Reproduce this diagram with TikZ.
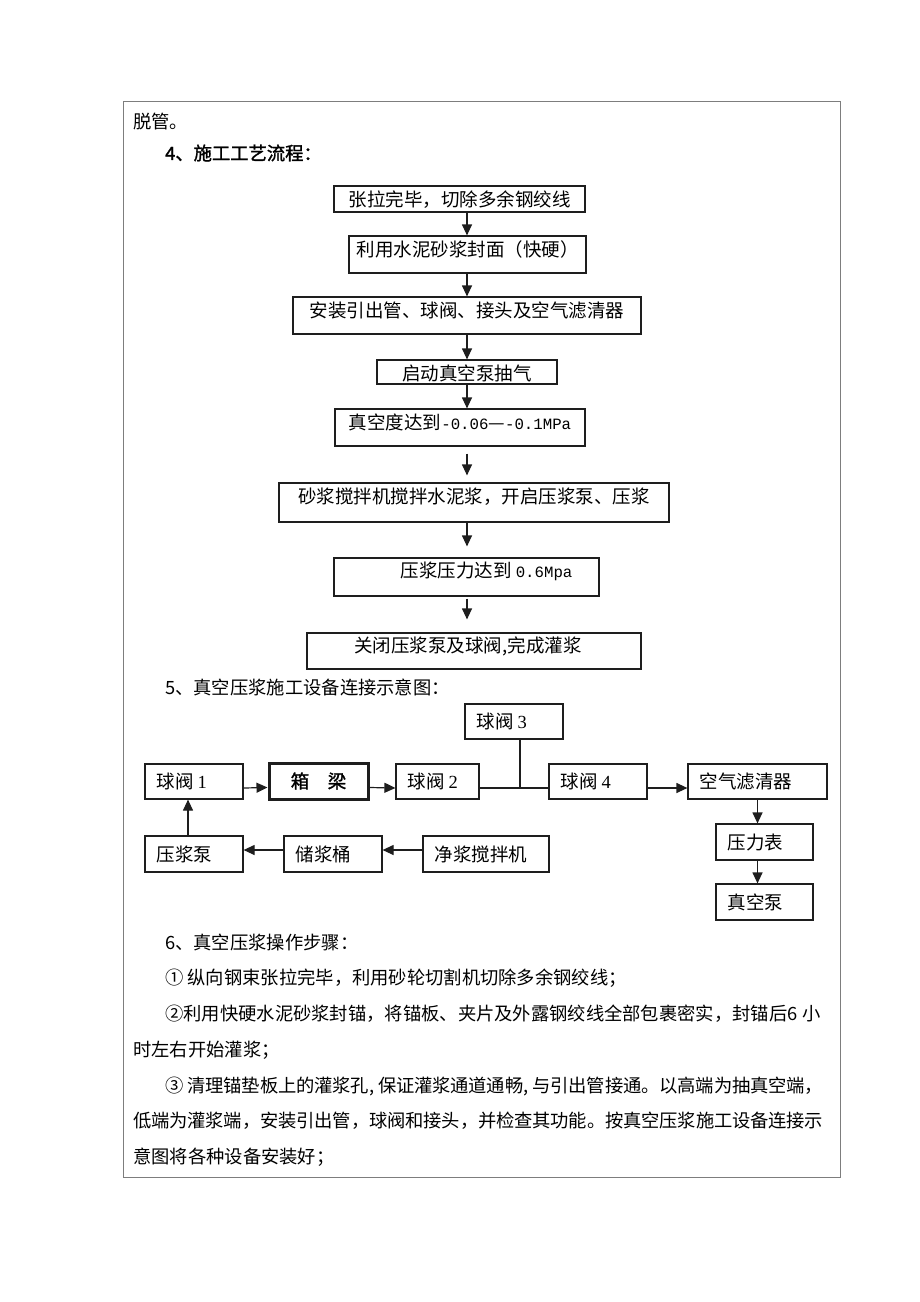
\documentclass[tikz,border=0pt]{standalone}
\usepackage{fontspec}
\setmainfont{Noto Sans CJK SC}[AutoFakeBold=1.5]
\newfontfamily\digitFont{Liberation Serif}
\newfontfamily\asciiFont[Scale=0.85]{Liberation Mono}
\XeTeXlinebreaklocale "zh"
\XeTeXlinebreakskip = 0pt plus 3pt minus 1.2pt
\usetikzlibrary{arrows.meta}
\tikzstyle{sheet} = [x = 1pt, y = -1pt]
\definecolor{frameColor}{RGB}{125,125,125}
\definecolor{boxColor}{RGB}{30,30,30}
\tikzstyle{pageFrame} = [draw=frameColor, line width=1pt]
\tikzstyle{flowBox} = [draw=boxColor, line width=1.2pt, inner sep=0pt]
\tikzstyle{girderBox} = [draw=boxColor, line width=3pt, inner sep=0pt]
\tikzstyle{flowText} = [inner sep=0pt, font=\fontsize{18.5}{22}\selectfont]
\tikzstyle{bodyText} = [inner sep=0pt, anchor=west, font=\fontsize{18.3}{22}\selectfont]
\tikzstyle{fullLine} = [bodyText, align=justify]
\tikzstyle{flowArrow} = [draw=boxColor, line width=1.2pt, -{Triangle[length=11pt, width=10pt]}]
\tikzstyle{pipeLine} = [draw=boxColor, line width=1.2pt]
\newcommand{\flowStep}[7]{
  \node [flowBox, minimum width = #4 - #2, minimum height = #5 - #3] (#1) at ({(#2 + #4) / 2}, {(#3 + #5) / 2}) {};
  \node [flowText] (#1Text) at ([xshift = #6pt, yshift = -14pt] #1.north) {#7};
}
\newcommand{\deviceBox}[6]{
  \node [flowBox, minimum width = #4 - #2, minimum height = #5 - #3] (#1) at ({(#2 + #4) / 2}, {(#3 + #5) / 2}) {};
  \node [flowText, anchor = west] (#1Text) at ([xshift = 12pt] #1.west) {#6};
}

\begin{document}
\begin{tikzpicture}[sheet]
  \useasboundingbox (0, 0) rectangle (920, 1302);
  \draw [pageFrame] (123, 101) rectangle (840, 1177);

  \node [bodyText] (tuoGuan) at (133, 122) {脱管。};
  \node [bodyText, font=\fontsize{18.3}{22}\selectfont\bfseries] (headFour) at (165, 153) {4、施工工艺流程：};

  % flow chart
  \coordinate (flowAxis) at (467, 0);
  \flowStep{stepOne}{334}{186}{585}{212}{0}{张拉完毕，切除多余钢绞线}
  \flowStep{stepTwo}{349}{236}{586}{273}{0}{利用水泥砂浆封面（快硬）}
  \flowStep{stepThree}{293}{297}{641}{334}{0}{安装引出管、球阀、接头及空气滤清器}
  \flowStep{stepFour}{377}{360}{557}{384}{0}{启动真空泵抽气}
  \flowStep{stepFive}{335}{409}{585}{446}{0}{真空度达到{\asciiFont -0.06}—{\asciiFont -0.1MPa}}
  \flowStep{stepSix}{279}{483}{669}{522}{0}{砂浆搅拌机搅拌水泥浆，开启压浆泵、压浆}
  \flowStep{stepSeven}{334}{558}{599}{596}{20}{压浆压力达到 {\asciiFont 0.6Mpa}}
  \flowStep{stepEight}{307}{633}{641}{669}{-6}{关闭压浆泵及球阀,完成灌浆}

  \draw [flowArrow] (stepOne.south -| flowAxis) -- (stepTwo.north -| flowAxis);
  \draw [flowArrow] (stepTwo.south -| flowAxis) -- (stepThree.north -| flowAxis);
  \draw [flowArrow] (stepThree.south -| flowAxis) -- (stepFour.north -| flowAxis);
  \draw [flowArrow] (stepFour.south -| flowAxis) -- (stepFive.north -| flowAxis);
  \draw [flowArrow, shorten <= 7pt, shorten >= 7pt] (stepFive.south -| flowAxis) -- (stepSix.north -| flowAxis);
  \draw [flowArrow, shorten >= 11pt] (stepSix.south -| flowAxis) -- (stepSeven.north -| flowAxis);
  \draw [flowArrow, shorten <= 2pt, shorten >= 13pt] (stepSeven.south -| flowAxis) -- (stepEight.north -| flowAxis);

  \node [bodyText] (headFive) at (165, 687) {5、真空压浆施工设备连接示意图：};

  % equipment connection
  \deviceBox{valveOne}{145}{764}{243}{799}{球阀 {\digitFont 1}}
  \node [girderBox, minimum width = 99, minimum height = 36] (boxGirder) at (318.5, 781) {};
  \node [flowText, font=\fontsize{18.5}{22}\selectfont\bfseries] (boxGirderText) at (boxGirder.center) {箱　梁};
  \deviceBox{valveTwo}{396}{764}{479}{799}{球阀 {\digitFont 2}}
  \deviceBox{valveThree}{465}{704}{563}{739}{球阀 {\digitFont 3}}
  \deviceBox{valveFour}{549}{764}{647}{799}{球阀 {\digitFont 4}}
  \deviceBox{airFilter}{688}{764}{827}{799}{空气滤清器}
  \deviceBox{pressureGauge}{716}{824}{813}{860}{压力表}
  \deviceBox{vacuumPump}{716}{884}{813}{920}{真空泵}
  \deviceBox{groutPump}{145}{836}{243}{872}{压浆泵}
  \deviceBox{slurryTank}{284}{836}{382}{872}{储浆桶}
  \deviceBox{slurryMixer}{423}{836}{549}{872}{净浆搅拌机}

  \coordinate (teeJoint) at (520, 788);
  \draw [flowArrow] ([yshift = -6.5pt] valveOne.east) -- ([yshift = -6.5pt] boxGirder.west);
  \draw [flowArrow] ([yshift = -6.5pt] boxGirder.east) -- ([yshift = -6.5pt] valveTwo.west);
  \draw [pipeLine] (valveTwo.east |- teeJoint) -- (valveFour.west |- teeJoint);
  \draw [pipeLine] (teeJoint) -- (teeJoint |- valveThree.south);
  \draw [flowArrow] ([yshift = -6.5pt] valveFour.east) -- ([yshift = -6.5pt] airFilter.west);
  \draw [flowArrow] (airFilter.south) -- (airFilter.south |- pressureGauge.north);
  \draw [flowArrow] (pressureGauge.south -| airFilter.south) -- (vacuumPump.north -| airFilter.south);
  \draw [flowArrow] ([yshift = 4pt] slurryMixer.west) -- ([yshift = 4pt] slurryTank.east);
  \draw [flowArrow] ([yshift = 4pt] slurryTank.west) -- ([yshift = 4pt] groutPump.east);
  \draw [flowArrow] ([xshift = -6pt] groutPump.north) -- ([xshift = -6pt] valveOne.south);

  % operation steps
  \node [bodyText] (headSix) at (165, 942) {6、真空压浆操作步骤：};
  \node [bodyText] (noteOne) at (165, 978) {① 纵向钢束张拉完毕，利用砂轮切割机切除多余钢绞线；};
  \node [fullLine, text width = 658pt] (noteTwo) at (165, 1014) {\parfillskip=0pt ②利用快硬水泥砂浆封锚，将锚板、夹片及外露钢绞线全部包裹密实，封锚后6\hspace{5pt plus 6pt}小};
  \node [bodyText] (noteTwoEnd) at (133, 1050) {时左右开始灌浆；};
  \node [fullLine, text width = 658pt] (noteThree) at (165, 1086) {\parfillskip=0pt ③ 清理锚垫板上的灌浆孔, 保证灌浆通道通畅, 与引出管接通。以高端为抽真空端，};
  \node [fullLine, text width = 690pt] (noteThreeMid) at (133, 1121) {\parfillskip=0pt 低端为灌浆端，安装引出管，球阀和接头，并检查其功能。按真空压浆施工设备连接示};
  \node [bodyText] (noteThreeEnd) at (133, 1157) {意图将各种设备安装好；};
\end{tikzpicture}
\end{document}
